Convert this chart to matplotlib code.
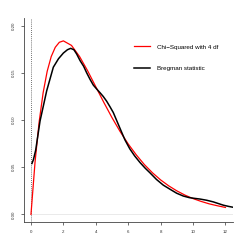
import numpy as np
import matplotlib.pyplot as plt

plt.rcParams['font.family'] = ['Liberation Sans', 'DejaVu Sans']

# chi-squared density (4 df)
chi_x = [0, 0.25, 0.5, 0.75, 1.0, 1.25, 1.5, 1.75, 2.0, 2.5, 3.0, 3.5, 4.0, 4.5,
         5.0, 5.5, 6.0, 6.5, 7.0, 7.5, 8.0, 8.5, 9.0, 9.5, 10.0, 10.5, 11.0, 11.5, 12.0]
chi_y = [0.0, 0.0552, 0.0974, 0.1289, 0.1516, 0.1673, 0.1771, 0.1824, 0.1839, 0.1791,
         0.1673, 0.1521, 0.1353, 0.1186, 0.1026, 0.0879, 0.0747, 0.0631, 0.0528, 0.0441,
         0.0366, 0.0303, 0.0250, 0.0205, 0.0168, 0.0138, 0.0112, 0.0092, 0.0074]

# Bregman statistic density estimate
breg_x = [0.06, 0.15, 0.29, 0.56, 0.97, 1.38, 1.7, 2.0, 2.25, 2.45, 2.65, 2.82, 3.03,
          3.25, 3.44, 3.65, 3.85, 4.05, 4.26, 4.46, 4.67, 4.88, 5.08, 5.29, 5.55, 5.8,
          6.1, 6.4, 6.73, 7.05, 7.35, 7.75, 8.17, 8.6, 8.99, 9.4, 9.77, 10.1, 10.43,
          10.85, 11.25, 11.55, 11.87, 12.2, 12.5]
breg_y = [0.054, 0.058, 0.068, 0.099, 0.131, 0.156, 0.165, 0.171, 0.1745, 0.176, 0.1745,
          0.170, 0.163, 0.157, 0.150, 0.143, 0.137, 0.133, 0.129, 0.125, 0.120, 0.114,
          0.108, 0.0995, 0.089, 0.079, 0.0695, 0.062, 0.055, 0.049, 0.044, 0.037, 0.031,
          0.0265, 0.0225, 0.0195, 0.0178, 0.0170, 0.0163, 0.0150, 0.0133, 0.0116, 0.0098,
          0.0085, 0.0075]

fig = plt.figure(figsize=(2.45, 2.45), dpi=100)
ax = fig.add_axes([0.096, 0.094, 0.855, 0.832])

ax.axvline(0, color="#444444", linestyle=(0, (1, 1.5)), linewidth=0.6)
ax.plot([0, 12.5], [0, 0], color="#e6e6e6", linewidth=0.6)
ax.plot(chi_x, chi_y, color="red", linewidth=0.9, label="Chi\u2212Squared with 4 df")
ax.plot(breg_x, breg_y, color="black", linewidth=1.1, label="Bregman statistic")

ax.set_xlim(-0.46, 12.47)
ax.set_ylim(-0.008, 0.208)
ax.set_xticks([0, 2, 4, 6, 8, 10, 12])
ax.set_yticks([0.0, 0.05, 0.10, 0.15, 0.20])
ax.set_yticklabels(["0.00", "0.05", "0.10", "0.15", "0.20"], rotation=90, va="center")
ax.tick_params(labelsize=3.2, length=2.5, width=0.5, pad=3, colors="#333333")
for s in ["top", "right"]:
    ax.spines[s].set_visible(False)
for s in ["left", "bottom"]:
    ax.spines[s].set_linewidth(0.6)
    ax.spines[s].set_color("#444444")

ax.legend(loc="upper left", bbox_to_anchor=(0.5, 0.9), frameon=False, fontsize=4.5,
          handlelength=2.6, handletextpad=1.1, labelspacing=2.6)

plt.savefig("out.png", dpi=100)
